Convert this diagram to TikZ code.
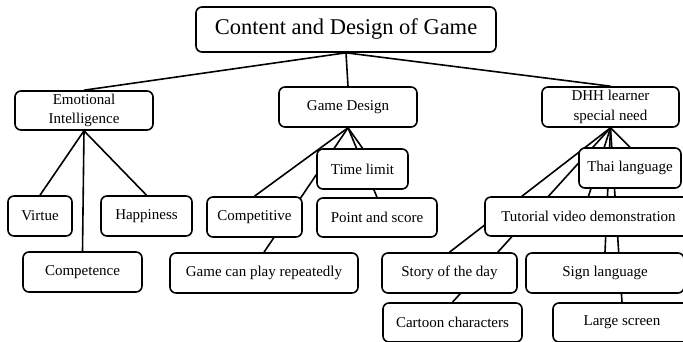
\documentclass[tikz,border=0pt]{standalone}
\usepackage{fontspec}
\setmainfont{Liberation Serif}
\pgfdeclarelayer{bg}
\pgfsetlayers{bg,main}
\begin{document}
\begin{tikzpicture}[x=1pt,y=-1pt,
  box/.style={draw, line width=1.6pt, rounded corners=6pt, fill=white, inner sep=0pt,
    align=center, font=\fontsize{15}{19.5}\selectfont, minimum height=40pt},
  link/.style={line width=1.6pt}]
\useasboundingbox (0,0) rectangle (683,342);
% level 0
\node[box, minimum width=300pt, minimum height=45pt, font=\fontsize{22.5}{27}\selectfont] (top) at (346,29.5) {Content and Design of Game};
% level 1
\node[box, minimum width=138pt, minimum height=39pt] (ei) at (84,110.5) {Emotional\\Intelligence};
\node[box, minimum width=138pt] (gd) at (348,107) {Game Design};
\node[box, minimum width=137pt] (dhh) at (610.5,107) {DHH learner\\special need};
% emotional intelligence
\node[box, minimum width=64pt] (virtue) at (40,216) {Virtue};
\node[box, minimum width=91pt] (happy) at (146.5,216) {Happiness};
\node[box, minimum width=119pt] (compet) at (82.5,272) {Competence};
% game design
\node[box, minimum width=95pt] (competitive) at (254.5,217) {Competitive};
\node[box, minimum width=91pt] (time) at (362.5,169) {Time limit};
\node[box, minimum width=120pt, minimum height=39pt] (point) at (377,217.5) {Point and score};
\node[box, minimum width=188pt] (repeat) at (264,273) {Game can play repeatedly};
% DHH
\node[box, minimum width=102pt] (thai) at (630,168) {Thai language};
\node[box, minimum width=207pt, minimum height=39pt] (tutorial) at (588.5,216.5) {Tutorial video demonstration};
\node[box, minimum width=135pt] (story) at (449.5,273) {Story of the day};
\node[box, minimum width=158pt] (sign) at (605,273) {Sign language};
\node[box, minimum width=139pt, minimum height=39pt] (cartoon) at (452.5,322.5) {Cartoon characters};
\node[box, minimum width=138pt, minimum height=39pt] (large) at (622,322.5) {Large screen};
% connectors behind the boxes
\begin{pgfonlayer}{bg}
\fill[white] (0,0) rectangle (683,342);
\foreach \c in {ei,gd,dhh} \draw[link] (top.south) -- (\c.north);
\foreach \c in {virtue,compet,happy} \draw[link] (ei.south) -- (\c.north);
\foreach \c in {competitive,repeat,time,point} \draw[link] (gd.south) -- (\c.north);
\foreach \c in {thai,tutorial,story,cartoon,sign,large} \draw[link] (dhh.south) -- (\c.north);
\end{pgfonlayer}
\end{tikzpicture}
\end{document}
